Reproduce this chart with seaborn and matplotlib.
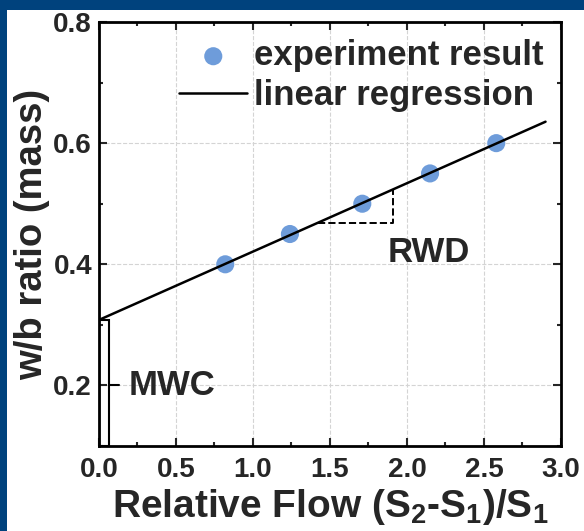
import numpy as np
import pandas as pd
import seaborn as sns
import matplotlib.pyplot as plt
from matplotlib.patches import Rectangle
from matplotlib.ticker import MultipleLocator

# data
flow = [0.82, 1.24, 1.71, 2.15, 2.58]
wb_ratio = [0.40, 0.45, 0.50, 0.55, 0.60]
fit_range = [0.0, 2.9]
mwc_width = 0.065
rwd_x = [1.42, 1.91]
x_ticks = [0.0, 0.5, 1.0, 1.5, 2.0, 2.5, 3.0]
y_ticks = [0.2, 0.4, 0.6, 0.8]

# linear regression through the points
slope, intercept = np.polyfit(flow, wb_ratio, 1)
fit = pd.DataFrame({'x': fit_range})
fit['y'] = intercept + slope * fit['x']
pts = pd.DataFrame({'x': flow, 'y': wb_ratio})

sns.set_style('ticks')
plt.rcParams['font.family'] = ['Liberation Sans', 'DejaVu Sans']
plt.rcParams['font.weight'] = 'bold'
plt.rcParams['mathtext.fontset'] = 'custom'
plt.rcParams['mathtext.rm'] = 'Liberation Sans:bold'
plt.rcParams['mathtext.bf'] = 'Liberation Sans:bold'
plt.rcParams['mathtext.default'] = 'bf'

fig = plt.figure(figsize=(5.84, 5.31), dpi=100)
fig.patch.set_facecolor('#00427d')
fig.add_artist(Rectangle((7 / 584, 0), 1, 1 - 10 / 531, transform=fig.transFigure,
                         facecolor='white', edgecolor='none', zorder=0))
ax = fig.add_axes([0.1695, 0.160, 0.791, 0.7986])

ax.grid(True, which='major', color='#d4d4d4', linestyle='--', linewidth=0.8)
ax.set_axisbelow(True)

sns.scatterplot(data=pts, x='x', y='y', ax=ax, s=170, color='#6e9cda',
                edgecolor='none', label='experiment result', zorder=3)
sns.lineplot(data=fit, x='x', y='y', ax=ax, color='black', linewidth=1.8,
             label='linear regression', zorder=4)

# MWC bar (intercept) and label
ax.bar(0, intercept - 0.1, width=mwc_width, bottom=0.1, align='edge',
       fill=False, edgecolor='black', linewidth=1.5, zorder=5)
ax.plot([mwc_width, 0.13], [0.2, 0.2], color='black', linewidth=1.5, zorder=5)
ax.text(0.19, 0.2, 'MWC', fontsize=25, fontweight='bold', va='center', ha='left')

# RWD slope triangle
y0 = intercept + slope * rwd_x[0]
y1 = intercept + slope * rwd_x[1]
ax.plot([rwd_x[0], rwd_x[1], rwd_x[1]], [y0, y0, y1], color='black',
        linestyle='--', linewidth=1.4, zorder=4)
ax.text(2.14, 0.42, 'RWD', fontsize=25, fontweight='bold', va='center', ha='center')

ax.set_xlim(0, 3.0)
ax.set_ylim(0.1, 0.8)
ax.set_xticks(x_ticks)
ax.set_yticks(y_ticks)
ax.xaxis.set_minor_locator(MultipleLocator(0.25))
ax.yaxis.set_minor_locator(MultipleLocator(0.1))
ax.tick_params(which='both', direction='in', top=True, right=True, width=1.5,
               labelsize=20)
ax.tick_params(axis='x', which='major', pad=8)
ax.tick_params(axis='y', which='major', pad=5)
ax.tick_params(which='major', length=6)
ax.tick_params(which='minor', length=3)
for lab in ax.get_xticklabels() + ax.get_yticklabels():
    lab.set_fontweight('bold')
for sp in ax.spines.values():
    sp.set_linewidth(2.0)
    sp.set_color('black')

ax.set_xlabel('Relative Flow (S$_2$-S$_1$)/S$_1$', fontsize=28, fontweight='bold')
ax.set_ylabel('w/b ratio (mass)', fontsize=27.5, fontweight='bold')
ax.xaxis.set_label_coords(0.5, -0.097)
ax.yaxis.set_label_coords(-0.106, 0.5)

leg = ax.legend(loc='upper right', frameon=False, fontsize=25, handlelength=1.95,
                handletextpad=0.2, labelspacing=0.2, borderaxespad=0.2,
                borderpad=0.3)
for t in leg.get_texts():
    t.set_fontweight('bold')

fig.savefig('out.png', dpi=100, facecolor=fig.get_facecolor())
